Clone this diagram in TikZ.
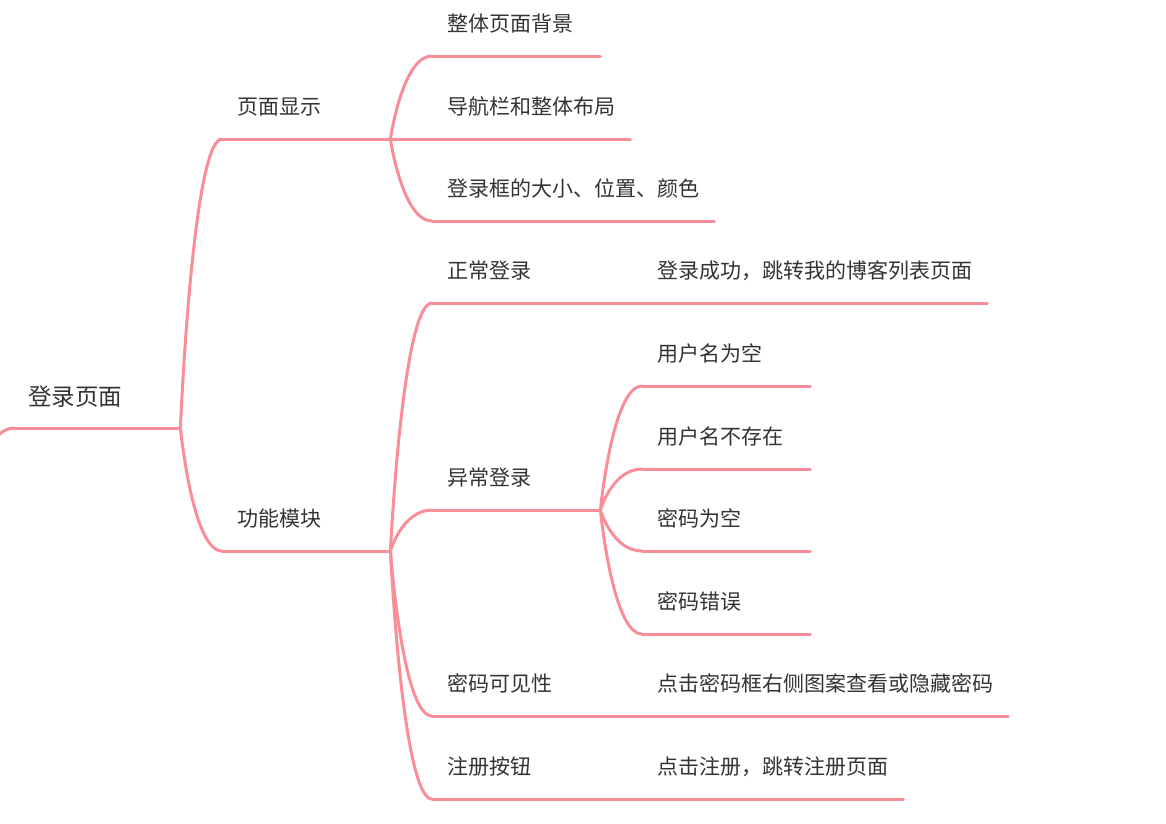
\documentclass[tikz,border=0pt]{standalone}
\usepackage{fontspec}
\setmainfont{Noto Sans CJK SC}
\usepackage{tikz}
\usetikzlibrary{calc}
\definecolor{mappink}{RGB}{249,142,153}
\definecolor{maptext}{RGB}{51,51,51}

\begin{document}
\begin{tikzpicture}[x=1pt, y=-1pt,
  topic/.style={anchor=south west, font=\fontsize{21pt}{25pt}\selectfont, text=maptext,
                inner xsep=15pt, inner ysep=0pt, text depth=24pt, align=left},
  fixedw/.style={text width=138pt},
  roottopic/.style={topic, fixedw, font=\fontsize{23.5pt}{28pt}\selectfont,
                    inner xsep=14pt, text depth=22pt},
  mapline/.style={draw=mappink, line width=3pt, line cap=round},
  maplink/.style={mapline, to path={.. controls (\tikztostart) and ($(\tikztostart |- \tikztotarget)+(12pt,0)$) .. (\tikztotarget)}},
]
  \useasboundingbox (0,0) rectangle (1166,823);
  \clip (0,0) rectangle (1166,823);

  % root and first level
  \node[roottopic] (root) at (14,428) {登录页面};
  \node[topic, fixedw] (show) at (222,139) {页面显示};
  \node[topic, fixedw] (func) at (222,551) {功能模块};

  % page display
  \node[topic, fixedw] (bg)  at (432,56)  {整体页面背景};
  \node[topic]         (nav) at (432,139) {导航栏和整体布局};
  \node[topic]         (box) at (432,221) {登录框的大小、位置、颜色};

  % functions
  \node[topic, fixedw] (normal)   at (432,303) {正常登录};
  \node[topic, fixedw] (abnormal) at (432,510) {异常登录};
  \node[topic, fixedw] (visible)  at (432,716) {密码可见性};
  \node[topic, fixedw] (register) at (432,799) {注册按钮};

  \node[topic]         (normalres)   at (642,303) {登录成功，跳转我的博客列表页面};
  \node[topic, fixedw] (emptyuser)   at (642,386) {用户名为空};
  \node[topic, fixedw] (nouser)      at (642,469) {用户名不存在};
  \node[topic, fixedw] (emptypwd)    at (642,551) {密码为空};
  \node[topic, fixedw] (wrongpwd)    at (642,634) {密码错误};
  \node[topic]         (visibleres)  at (642,716) {点击密码框右侧图案查看或隐藏密码};
  \node[topic]         (registerres) at (642,799) {点击注册，跳转注册页面};

  % underlines
  \foreach \n in {root,show,func,bg,nav,box,normal,abnormal,visible,register,
                  normalres,emptyuser,nouser,emptypwd,wrongpwd,visibleres,registerres}
    \draw[mapline] (\n.south west) -- (\n.south east);

  % connectors
  \coordinate (stub) at (-28,500);
  \draw[maplink] (stub) to (root.south west);
  \foreach \p/\c in {root/show, root/func,
                     show/bg, show/nav, show/box,
                     func/normal, func/abnormal, func/visible, func/register,
                     normal/normalres,
                     abnormal/emptyuser, abnormal/nouser, abnormal/emptypwd, abnormal/wrongpwd,
                     visible/visibleres, register/registerres}
    \draw[maplink] (\p.south east) to (\c.south west);
\end{tikzpicture}
\end{document}
